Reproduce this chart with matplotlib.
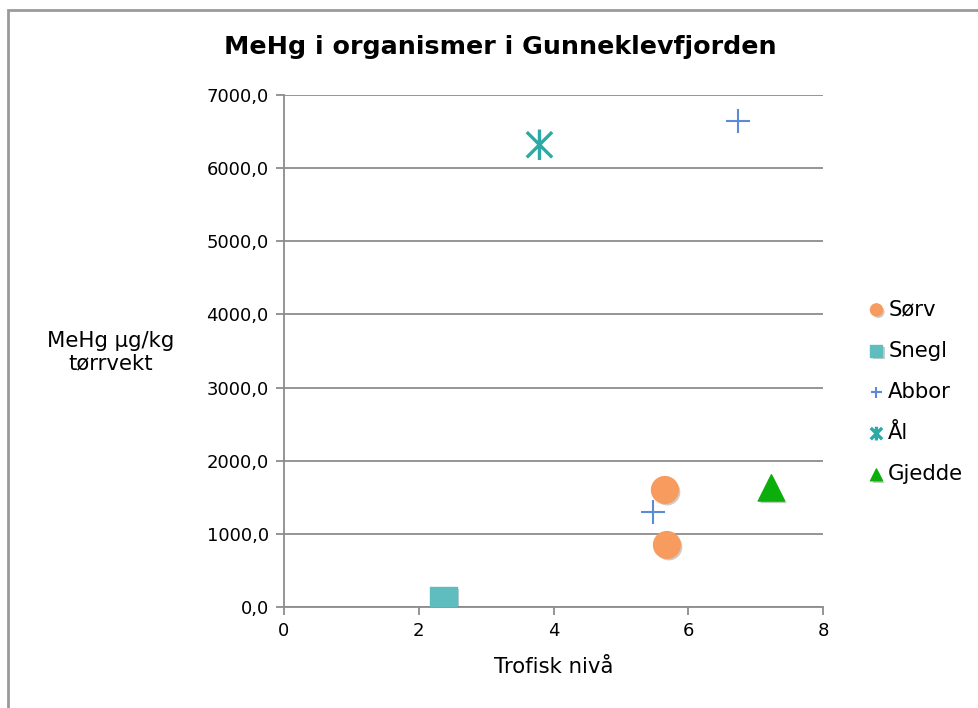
import matplotlib
matplotlib.use("Agg")
import matplotlib.pyplot as plt
from matplotlib.patches import Rectangle
from matplotlib.path import Path
from matplotlib.ticker import FuncFormatter
import matplotlib.patheffects as pe

plt.rcParams["font.family"] = ["DejaVu Sans"]

# ---- data ----------------------------------------------------------------
sorv_x = [5.65, 5.68]
sorv_y = [1600, 848]
snegl_x = [2.37]
snegl_y = [96]
abbor_x = [6.74, 5.47]
abbor_y = [6648, 1300]
aal_x = [3.79]
aal_y = [6320]
gjedde_x = [7.23]
gjedde_y = [1628]

GRID = "#8c8c8c"
LABEL_FS = 15.3
shadow = [pe.SimplePatchShadow(offset=(1.5, -1.5), alpha=0.25), pe.Normal()]

# Excel-style "star": an X with a vertical stroke through it
star = Path([(-1, -1), (1, 1), (-1, 1), (1, -1), (0, -1.2), (0, 1.2)],
            [Path.MOVETO, Path.LINETO] * 3)

fig = plt.figure(figsize=(9.79, 7.08), dpi=100)
fig.patches.append(Rectangle((8 / 979, -0.01), 1.02, 1 - 10 / 708 + 0.01,
                             transform=fig.transFigure, fill=False,
                             edgecolor="#9a9a9a", linewidth=2.0))

ax = fig.add_axes([0.290, 0.1427, 0.551, 0.7231])

ax.scatter(sorv_x, sorv_y, s=370, marker="o", color="#F79B5E", label="Sørv",
           zorder=3, path_effects=shadow)
ax.scatter(snegl_x, snegl_y, s=370, marker="s", color="#5FBCBF", label="Snegl",
           zorder=3, path_effects=shadow)
ax.scatter(abbor_x, abbor_y, s=300, marker="+", color="#5B8AD6", linewidths=1.5,
           label="Abbor", zorder=3, path_effects=shadow)
ax.scatter(aal_x, aal_y, s=480, marker=star, color="#2BAAA6",
           linewidths=2.4, label="Ål", zorder=3, path_effects=shadow)
ax.scatter(gjedde_x, gjedde_y, s=360, marker="^", color="#0BAE0B",
           label="Gjedde", zorder=3, path_effects=shadow)

ax.set_xlim(0, 8)
ax.set_ylim(0, 7000)
ax.set_xticks([0, 2, 4, 6, 8])
ax.set_yticks(range(0, 7001, 1000))
ax.yaxis.set_major_formatter(FuncFormatter(lambda v, _: f"{v:.1f}".replace(".", ",")))
ax.grid(axis="y", color=GRID, linewidth=1.3)
ax.set_axisbelow(True)
for s in ["top", "right"]:
    ax.spines[s].set_visible(False)
for s in ["left", "bottom"]:
    ax.spines[s].set_color(GRID)
    ax.spines[s].set_linewidth(1.3)
ax.tick_params(axis="both", colors=GRID, width=1.3, length=6, labelsize=13,
               labelcolor="black", pad=5)

fig.text(500 / 979, 1 - 47 / 708, "MeHg i organismer i Gunneklevfjorden",
         ha="center", va="center", fontsize=18.3, fontweight="bold")
ax.set_xlabel("Trofisk nivå", fontsize=LABEL_FS, labelpad=12)
fig.text(111 / 979, 1 - 352 / 708, "MeHg µg/kg\ntørrvekt", ha="center",
         va="center", fontsize=LABEL_FS, linespacing=1.15)

leg = ax.legend(loc="center left", bbox_to_anchor=(1.063, 0.42), frameon=False,
                fontsize=LABEL_FS, handlelength=1.0, handletextpad=0.05,
                labelspacing=1.0, markerscale=0.45, borderaxespad=0)

fig.savefig("out.png", dpi=100)
